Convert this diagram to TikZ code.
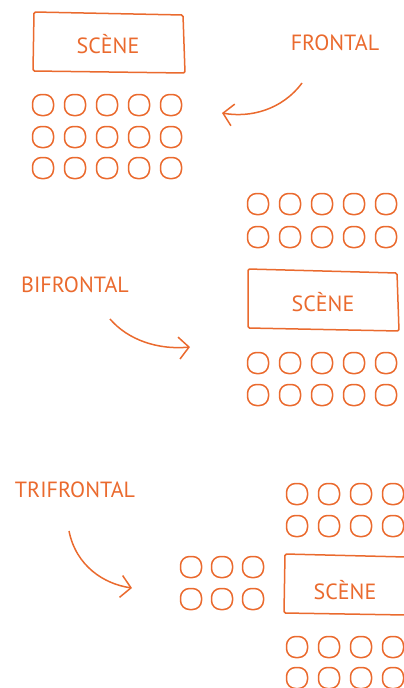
\documentclass[tikz,border=0pt]{standalone}
\usepackage{fontspec}
\newfontfamily\hand{PT Sans}
\usetikzlibrary{arrows.meta}
\definecolor{orng}{HTML}{EA6A2E}
\tikzset{
  seat/.style={draw=orng, line width=1.5pt, rounded corners=9pt, minimum width=21pt, minimum height=21pt, inner sep=0pt},
  stage/.style={draw=orng, line width=1.5pt, rounded corners=1.5pt},
  lbl/.style={text=orng, font=\hand\fontsize{22}{22}\selectfont, inner sep=0pt},
  curvy/.style={draw=orng, line width=1.5pt, -{Straight Barb[length=10pt,width=22pt,line width=1.5pt]}}
}
\begin{document}
\begin{tikzpicture}[x=1pt,y=-1pt]
\useasboundingbox (0,0) rectangle (404,688);
% ---------- Frontal ----------
\draw[stage] (34,12) -- (183,15) -- (185,73) -- (33,71) -- cycle;
\node[lbl] (scene1) at (108,44) {SCÈNE};
\foreach \c/\x in {1/43,2/75,3/107,4/139,5/171}{
  \foreach \r/\y in {1/105,2/137,3/168}{
    \node[seat] (fa\r\c) at (\x,\y) {};
  }
}
\node[lbl] (frontal) at (335,43) {FRONTAL};
\coordinate (a1s) at (302,83);
\coordinate (a1e) at (222,113);
\draw[curvy] (a1s) .. controls (282,110) and (250,118) .. (a1e);
% ---------- Bifrontal ----------
\foreach \c/\x in {1/258,2/290,3/322,4/354,5/386}{
  \foreach \r/\y in {1/204,2/237,3/363,4/395}{
    \node[seat] (bi\r\c) at (\x,\y) {};
  }
}
\draw[stage] (248,269) -- (397,273) -- (399,331) -- (248,328) -- cycle;
\node[lbl] (scene2) at (323,302) {SCÈNE};
\node[lbl] (bifrontal) at (75,285) {BIFRONTAL};
\coordinate (a2s) at (110,319);
\coordinate (a2e) at (190,347);
\draw[curvy] (a2s) .. controls (128,340) and (158,350) .. (a2e);
% ---------- Trifrontal ----------
\node[lbl] (trifrontal) at (75,490) {TRIFRONTAL};
\coordinate (a3s) at (69,531);
\coordinate (a3e) at (132,588);
\draw[curvy] (a3s) .. controls (76,566) and (104,584) .. (a3e);
\foreach \c/\x in {1/297,2/329,3/361,4/393}{
  \foreach \r/\y in {1/494,2/526,3/647,4/678}{
    \node[seat] (tr\r\c) at (\x,\y) {};
  }
}
\foreach \c/\x in {1/191,2/222,3/253}{
  \foreach \r/\y in {1/567,2/599}{
    \node[seat] (tl\r\c) at (\x,\y) {};
  }
}
\draw[stage] (406,557) -- (285,554) -- (284,613) -- (406,615);
\node[lbl] (scene3) at (345,590) {SCÈNE};
\end{tikzpicture}
\end{document}
